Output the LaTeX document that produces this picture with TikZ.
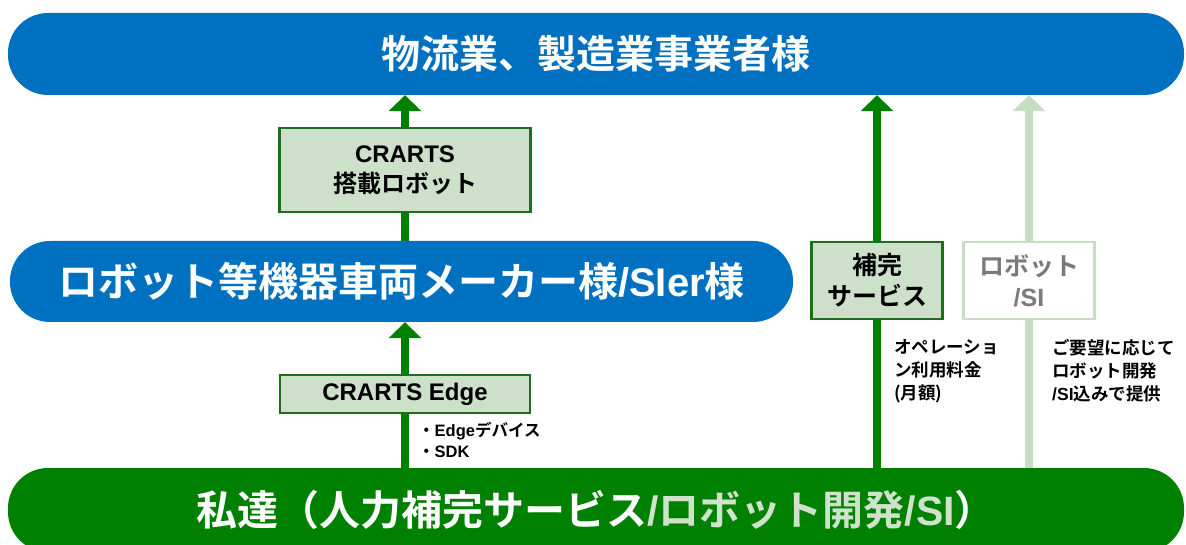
\documentclass[tikz,border=0pt]{standalone}
\usepackage{fontspec}
\setmainfont{Noto Sans CJK JP}[BoldFont={* Bold}]
\newfontfamily\lat{Liberation Sans}
\usetikzlibrary{arrows.meta,backgrounds}
\definecolor{barblue}{HTML}{0070C0}
\definecolor{bargreen}{HTML}{008000}
\definecolor{boxfill}{HTML}{CCE0CA}
\definecolor{boxedge}{HTML}{1E6E1E}
\definecolor{lightgreen}{HTML}{C8DEC4}
\definecolor{lighttext}{HTML}{CFE3CC}
\definecolor{graytext}{HTML}{7A7A7A}
\newcommand{\fs}[2]{\fontsize{#1}{#2}\selectfont}
\newcommand{\la}[1]{{\lat\bfseries #1}}
\tikzset{
  bar/.style={rounded corners=40pt, inner sep=0pt, text=white, font=\bfseries\fs{39}{39}},
  gbox/.style={draw=boxedge, line width=2.5pt, fill=boxfill, inner sep=0pt, align=center, font=\bfseries\fs{24}{30}},
  wbox/.style={draw=lightgreen, line width=2.5pt, fill=white, text=graytext, inner sep=0pt, align=center, font=\bfseries\fs{25}{31}},
  note/.style={inner sep=0pt, align=left, anchor=north west, font=\bfseries\fs{17.5}{23}},
  arr/.style={line width=8pt, -{Triangle[width=32pt,length=16pt]}},
}
\begin{document}
\begin{tikzpicture}[x=1pt,y=-1pt]
\useasboundingbox (0,0) rectangle (1186,545);
% bars
\node[bar, fill=barblue, minimum width=1176pt, minimum height=82pt] (top) at (596,54) {物流業、製造業事業者様};
\node[bar, fill=barblue, font=\bfseries\fs{40}{40}, minimum width=783pt, minimum height=81pt] (mid) at (401.5,281.5) {ロボット等機器車両メーカー様\la{/SIer}様};
\node[bar, fill=bargreen, font=\bfseries\fs{41}{41}, minimum width=1176pt, minimum height=84pt] (bot) at (596,510) {私達（人力補完サービス{\color{lighttext}\la{/}ロボット開発\la{/SI}}）};
% boxes
\node[gbox, minimum width=251pt, minimum height=84pt] (crarts) at (405,170) {\la{CRARTS}\\搭載ロボット};
\node[gbox, minimum width=250pt, minimum height=38pt] (edge) at (405,394) {\la{CRARTS Edge}};
\node[gbox, font=\bfseries\fs{25}{31}, minimum width=131pt, minimum height=77pt] (hokan) at (877,280.5) {補完\\サービス};
\node[wbox, minimum width=131pt, minimum height=77pt] (robo) at (1029,280.5) {ロボット\\\la{/SI}};
% arrows
\begin{scope}[on background layer]
\draw[arr, draw=bargreen, fill=bargreen] (crarts.south |- mid.north) -- (crarts.north |- top.south);
\draw[arr, draw=bargreen, fill=bargreen] (edge.south |- bot.north) -- (edge.north |- mid.south);
\draw[arr, draw=bargreen, fill=bargreen] (hokan.south |- bot.north) -- (hokan.north |- top.south);
\draw[arr, draw=lightgreen, fill=lightgreen] (robo.south |- bot.north) -- (robo.north |- top.south);
\end{scope}
% notes
\node[note] (n1) at (894,339) {オペレーショ\\ン利用料金\\(月額)};
\node[note] (n2) at (1052,339) {ご要望に応じて\\ロボット開発\\\la{/SI}込みで提供};
\node[note, font=\bfseries\fs{16.5}{21}] (n3) at (418,422) {・\la{Edge}デバイス\\・\la{SDK}};
\end{tikzpicture}
\end{document}
